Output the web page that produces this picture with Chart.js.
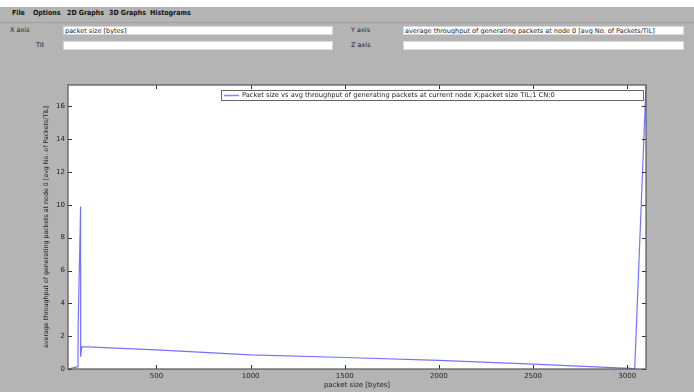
<!DOCTYPE html>
<html>
<head>
<meta charset="utf-8">
<script src="https://cdn.jsdelivr.net/npm/chart.js@4.4.1/dist/chart.umd.min.js"></script>
<style>
  html, body { margin: 0; padding: 0; }
  body { width: 694px; height: 392px; background: #b4b4b4; position: relative; overflow: hidden;
         font-family: "DejaVu Sans", sans-serif; }
  .top { position: absolute; left: 0; top: 0; width: 694px; height: 7px; background: #fff; }
  .menubar { position: absolute; left: 0; top: 7px; width: 694px; height: 15px; border-bottom: 1px solid #9c9c9c; }
  .menu { position: absolute; top: 9px; font: bold 7px "DejaVu Sans Condensed", "DejaVu Sans", sans-serif; color: #111; }
  .lbl { position: absolute; font-size: 6.5px; color: #222; }
  .field { position: absolute; height: 9px; background: #fff; border: 1px solid #d8d8d8; box-sizing: border-box;
           font-size: 6.5px; line-height: 8px; padding-left: 1px; color: #222; white-space: nowrap; overflow: hidden;
           -webkit-font-smoothing: antialiased; }
  #wrap { position: absolute; left: 0; top: 60px; width: 694px; height: 332px; }
</style>
</head>
<body>
<div class="top"></div>
<div class="menubar"></div>
<span class="menu" style="left:12px">File</span>
<span class="menu" style="left:33px">Options</span>
<span class="menu" style="left:67px">2D Graphs</span>
<span class="menu" style="left:109px">3D Graphs</span>
<span class="menu" style="left:150px">Histograms</span>

<span class="lbl" style="left:10px;top:26px">X axis</span>
<div class="field" style="left:63px;top:26px;width:270px">packet size [bytes]</div>
<span class="lbl" style="left:36px;top:41px">Tit</span>
<div class="field" style="left:63px;top:41px;width:270px"></div>
<span class="lbl" style="left:351px;top:26px">Y axis</span>
<div class="field" style="left:403px;top:26px;width:281px">average throughput of generating packets at node 0 [avg No. of Packets/TIL]</div>
<span class="lbl" style="left:351px;top:41px">Z axis</span>
<div class="field" style="left:403px;top:41px;width:281px"></div>

<div id="wrap"><canvas id="chart" width="694" height="332"></canvas></div>

<script>
// data
const packetSize = [30, 83, 84, 97, 95, 97, 99, 103, 500, 1000, 1500, 2000, 2500, 2980, 3010, 3040, 3100];
const throughput = [0, 0.14, 2.6, 9.9, 7.4, 5.0, 0.75, 1.36, 1.16, 0.86, 0.7, 0.52, 0.3, 0.05, 0.05, 0, 17.3];
const xTickValues = [500, 1000, 1500, 2000, 2500, 3000];
const yTickValues = [0, 2, 4, 6, 8, 10, 12, 14, 16];
const seriesLabel = 'Packet size vs avg throughput of generating packets at current node X;packet size TIL;1 CN;0';
const xTitle = 'packet size [bytes]';
const yTitle = 'average throughput of generating packets at node 0 [avg No. of Packets/TIL]';
const lineColor = 'rgba(80,80,255,0.8)';

const points = packetSize.map((x, i) => ({ x: x, y: throughput[i] }));

// white plot area, frame, inward ticks and boxed legend
const plotDeco = {
  id: 'plotDeco',
  beforeDraw(chart) {
    const a = chart.chartArea, c = chart.ctx;
    c.save();
    c.fillStyle = '#fff';
    c.fillRect(a.left, a.top, a.right - a.left, a.bottom - a.top);
    c.restore();
  },
  afterDraw(chart) {
    const a = chart.chartArea, c = chart.ctx;
    const xs = chart.scales.x, ys = chart.scales.y;
    c.save();
    c.strokeStyle = '#333';
    c.lineWidth = 1;
    c.beginPath();
    xs.ticks.forEach(t => {
      const px = Math.round(xs.getPixelForValue(t.value)) + 0.5;
      c.moveTo(px, a.bottom); c.lineTo(px, a.bottom - 4);
      c.moveTo(px, a.top); c.lineTo(px, a.top + 4);
    });
    ys.ticks.forEach(t => {
      const py = Math.round(ys.getPixelForValue(t.value)) + 0.5;
      c.moveTo(a.left, py); c.lineTo(a.left + 4, py);
      c.moveTo(a.right, py); c.lineTo(a.right - 4, py);
    });
    c.stroke();
    c.strokeStyle = '#555';
    c.lineWidth = 1.2;
    c.strokeRect(a.left, a.top, a.right - a.left, a.bottom - a.top);

    // legend
    const lx = 221, ly = a.top + 5, lw = 422, lh = 10;
    c.fillStyle = '#fff';
    c.fillRect(lx, ly, lw, lh);
    c.strokeStyle = '#666';
    c.lineWidth = 1;
    c.strokeRect(lx + 0.5, ly + 0.5, lw, lh);
    c.strokeStyle = 'rgba(120,120,255,0.9)';
    c.lineWidth = 1.5;
    c.beginPath();
    c.moveTo(lx + 3, ly + 5.5); c.lineTo(lx + 18, ly + 5.5);
    c.stroke();
    c.fillStyle = '#222';
    c.font = '6.7px "DejaVu Sans", sans-serif';
    c.textBaseline = 'middle';
    c.fillText(chart.data.datasets[0].label, lx + 21, ly + 5.5);
    c.restore();
  }
};

new Chart(document.getElementById('chart'), {
  type: 'scatter',
  data: {
    datasets: [{
      label: seriesLabel,
      data: points,
      showLine: true,
      borderColor: lineColor,
      borderWidth: 1.2,
      pointRadius: 0,
      tension: 0
    }]
  },
  options: {
    responsive: false,
    animation: false,
    layout: { padding: { left: 40, right: 48, top: 25, bottom: 3 } },
    plugins: { legend: { display: false }, tooltip: { enabled: false } },
    scales: {
      x: {
        type: 'linear',
        min: 30,
        max: 3100,
        grid: { display: false, drawTicks: false },
        border: { display: false },
        ticks: { autoSkip: false, padding: 3, color: '#222', font: { size: 7, family: 'DejaVu Sans' },
                 callback: v => String(v) },
        afterBuildTicks: s => { s.ticks = xTickValues.map(v => ({ value: v })); },
        afterFit: s => { s.height = 20; },
        title: { display: true, text: xTitle, color: '#222', padding: 0, font: { size: 7, family: 'DejaVu Sans' } }
      },
      y: {
        min: 0,
        max: 17.3,
        grid: { display: false, drawTicks: false },
        border: { display: false },
        ticks: { autoSkip: false, padding: 3, color: '#222', font: { size: 7, family: 'DejaVu Sans' },
                 callback: v => String(v) },
        afterBuildTicks: s => { s.ticks = yTickValues.map(v => ({ value: v })); },
        afterFit: s => { s.width = 28; },
        title: { display: true, text: yTitle, color: '#222', padding: { top: 3, bottom: 0 }, font: { size: 6.3, family: 'DejaVu Sans' } }
      }
    }
  },
  plugins: [plotDeco]
});
</script>
</body>
</html>
